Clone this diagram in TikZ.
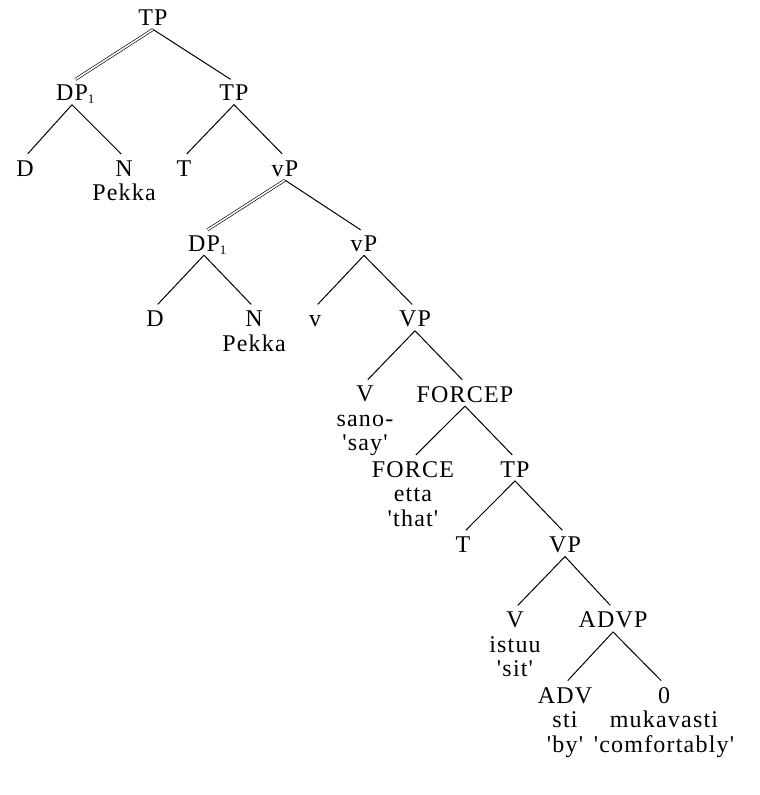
\documentclass[tikz,border=0pt]{standalone}
\usepackage{fontspec}
\setmainfont[LetterSpace=5,Ligatures=TeXOff]{Liberation Serif}
\newcommand\subone{\rlap{\smash{\raisebox{-3pt}{\fontsize{13}{13}\selectfont 1}}}}
\begin{document}
\begin{tikzpicture}[x=1pt,y=-1pt,
  lab/.style={anchor=north,align=center,inner xsep=0pt,inner ysep=3.5pt,
    font=\fontsize{24}{24.5}\selectfont,execute at begin node={\vphantom{T}}},
  br/.style={line width=1pt,shorten >=4pt},
  dbl/.style={double,double distance=1.6pt,line width=0.65pt,shorten >=4pt}]
\useasboundingbox (0,0) rectangle (760,795);
% first-line baselines minus (cap height + inner sep)
\def\off{19.2}
\pgfmathsetmacro\ra{25.5-\off}
\pgfmathsetmacro\rb{100.75-\off}
\pgfmathsetmacro\rc{176-\off}
\pgfmathsetmacro\rd{251.25-\off}
\pgfmathsetmacro\re{326.5-\off}
\pgfmathsetmacro\rf{401.75-\off}
\pgfmathsetmacro\rg{477-\off}
\pgfmathsetmacro\rh{552.25-\off}
\pgfmathsetmacro\ri{627.5-\off}
\pgfmathsetmacro\rj{702.75-\off}
\node[lab] (tp0) at (153,\ra) {TP};
\node[lab] (dpa) at (72,\rb) {DP\subone};
\node[lab] (tp1) at (234,\rb) {TP};
\node[lab] (da) at (25,\rc) {D};
\node[lab] (na) at (124,\rc) {N\\Pekka};
\node[lab] (t1) at (184,\rc) {T};
\node[lab] (vp1) at (285,\rc) {vP};
\node[lab] (dpb) at (204,\rd) {DP\subone};
\node[lab] (vp2) at (364,\rd) {vP};
\node[lab] (db) at (155,\re) {D};
\node[lab] (nb) at (254,\re) {N\\Pekka};
\node[lab] (v) at (315,\re) {v};
\node[lab] (VPa) at (415,\re) {VP};
\node[lab] (Va) at (365,\rf) {V\\sano-\\'say'};
\node[lab] (fp) at (465,\rf) {FORCEP};
\node[lab] (f) at (413,\rg) {FORCE\\etta\\'that'};
\node[lab] (tp2) at (515,\rg) {TP};
\node[lab] (t2) at (463,\rh) {T};
\node[lab] (VPb) at (565,\rh) {VP};
\node[lab] (Vb) at (515,\ri) {V\\istuu\\'sit'};
\node[lab] (advp) at (613,\ri) {ADVP};
\node[lab] (adv) at (565,\rj) {ADV\\sti\\'by'};
\node[lab] (z) at (664,\rj) {0\\mukavasti\\'comfortably'};
% branches
\draw[dbl] (tp0.south) -- (dpa.north);
\draw[br] (tp0.south) -- (tp1.north);
\draw[br] (dpa.south) -- (da.north);
\draw[br] (dpa.south) -- (na.north);
\draw[br] (tp1.south) -- (t1.north);
\draw[br] (tp1.south) -- (vp1.north);
\draw[dbl] (vp1.south) -- (dpb.north);
\draw[br] (vp1.south) -- (vp2.north);
\draw[br] (dpb.south) -- (db.north);
\draw[br] (dpb.south) -- (nb.north);
\draw[br] (vp2.south) -- (v.north);
\draw[br] (vp2.south) -- (VPa.north);
\draw[br] (VPa.south) -- (Va.north);
\draw[br] (VPa.south) -- (fp.north);
\draw[br] (fp.south) -- (f.north);
\draw[br] (fp.south) -- (tp2.north);
\draw[br] (tp2.south) -- (t2.north);
\draw[br] (tp2.south) -- (VPb.north);
\draw[br] (VPb.south) -- (Vb.north);
\draw[br] (VPb.south) -- (advp.north);
\draw[br] (advp.south) -- (adv.north);
\draw[br] (advp.south) -- (z.north);
\end{tikzpicture}
\end{document}
